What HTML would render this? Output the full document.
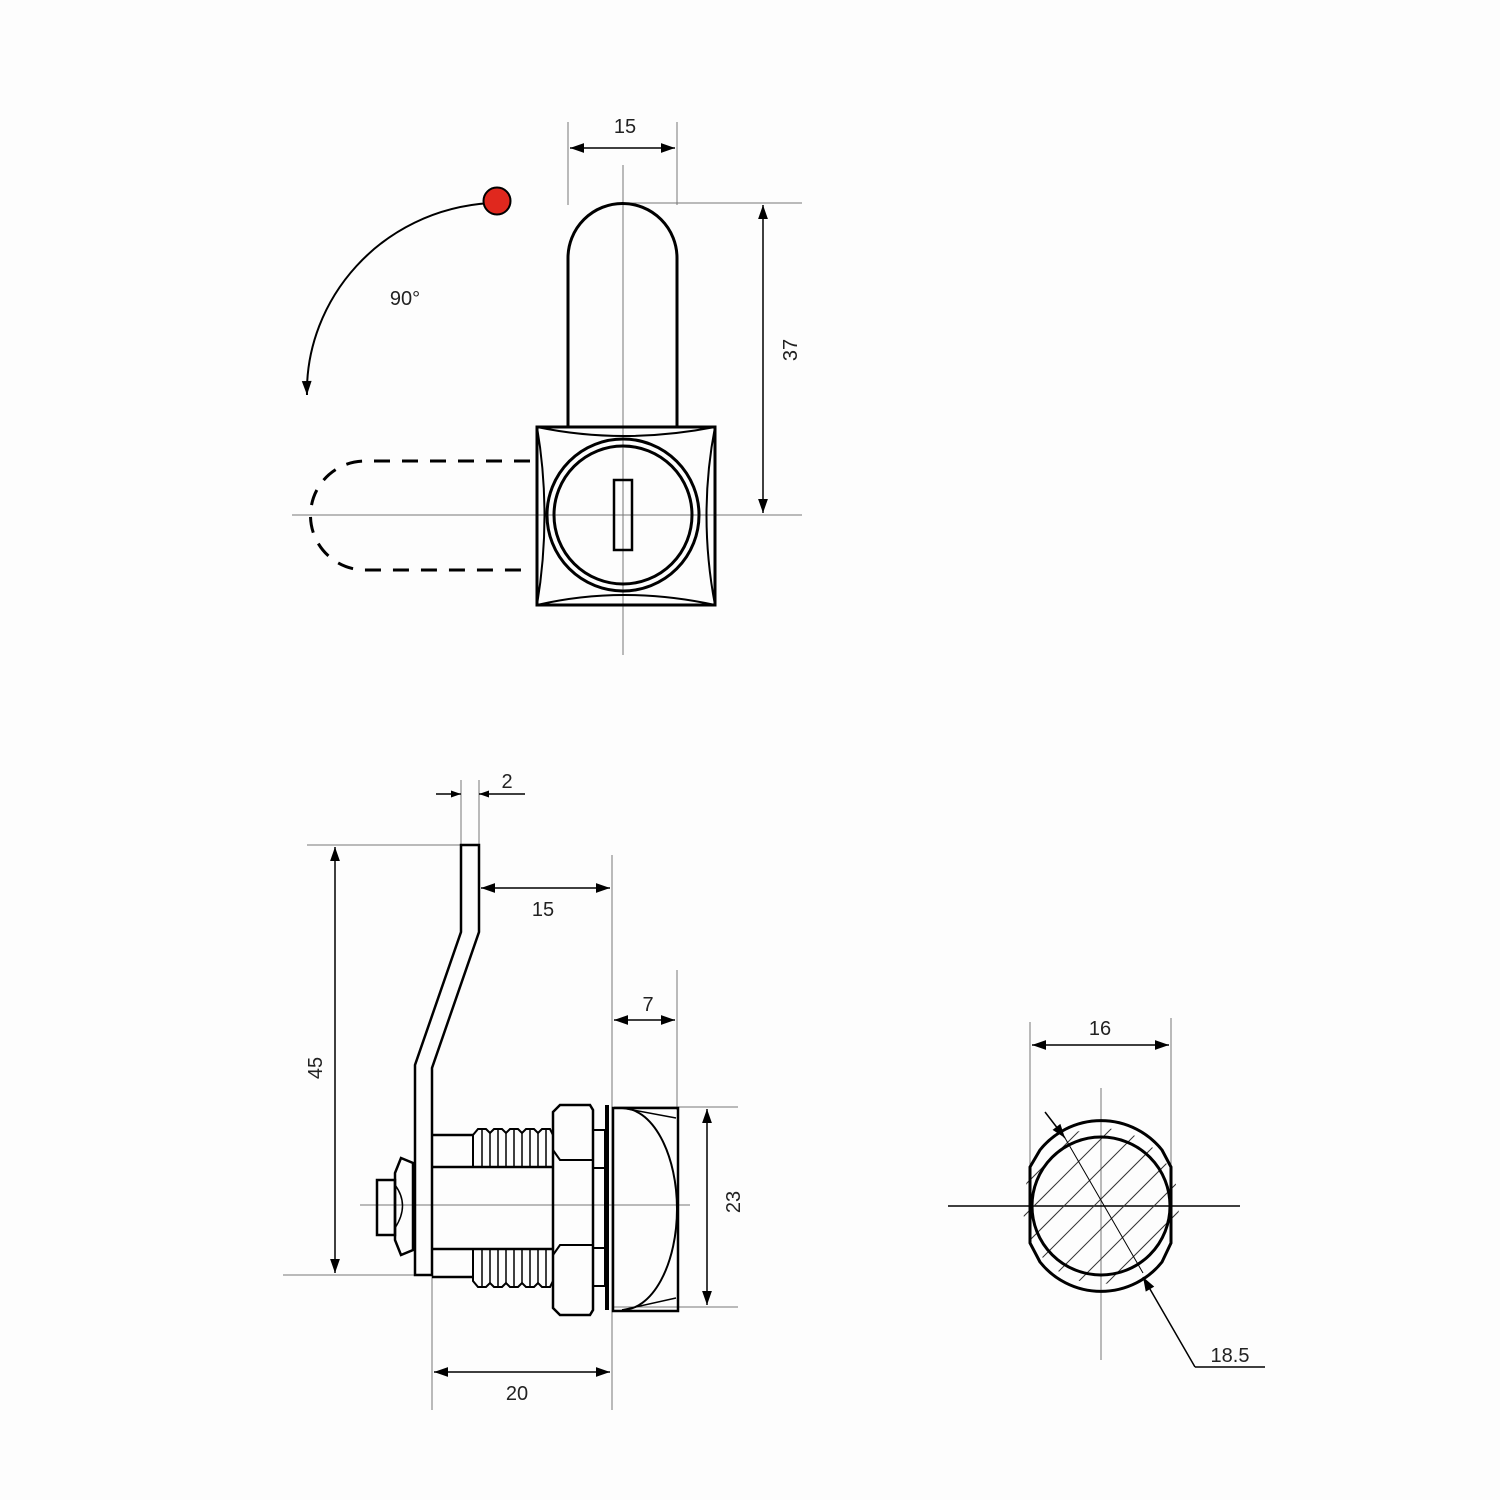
<!DOCTYPE html>
<html><head><style>html,body{margin:0;padding:0;background:#fff}svg{display:block}text{font-family:"Liberation Sans",sans-serif;fill:#222}</style></head>
<body>
<svg width="1500" height="1500" viewBox="0 0 1500 1500" xmlns="http://www.w3.org/2000/svg">
<defs>
<marker id="a" viewBox="0 0 10 10" refX="10" refY="5" markerWidth="10" markerHeight="10" markerUnits="userSpaceOnUse" orient="auto-start-reverse"><path d="M0,1.5 L10,5 L0,8.5 z" fill="#000"/></marker>
<marker id="b" viewBox="0 0 10 10" refX="10" refY="5" markerWidth="16" markerHeight="14" markerUnits="userSpaceOnUse" orient="auto-start-reverse"><path d="M0,1.5 L10,5 L0,8.5 z" fill="#000"/></marker>
<clipPath id="co"><circle cx="1101" cy="1206" r="78"/></clipPath>
</defs>
<rect width="1500" height="1500" fill="#fdfdfd"/>

<!-- TOP VIEW -->
<g stroke="#777" stroke-width="1" fill="none">
<line x1="623" y1="165" x2="623" y2="655"/>
<line x1="292" y1="515" x2="802" y2="515"/>
<line x1="568" y1="122" x2="568" y2="205"/>
<line x1="677" y1="122" x2="677" y2="205"/>
<line x1="625" y1="203" x2="802" y2="203"/>
</g>
<g stroke="#000" stroke-width="1.5" fill="none">
<line x1="570" y1="148" x2="675" y2="148" marker-start="url(#b)" marker-end="url(#b)"/>
<line x1="763" y1="205" x2="763" y2="513" marker-start="url(#b)" marker-end="url(#b)"/>
</g>
<text x="625" y="133" font-size="20" text-anchor="middle">15</text>
<text transform="translate(797,350) rotate(-90)" font-size="20" text-anchor="middle">37</text>

<g stroke="#000" stroke-width="3" fill="none">
<path d="M568,426 L568,258 A54.5,54.5 0 0 1 677,258 L677,426"/>
<rect x="537" y="427" width="178" height="178"/>
<path d="M537,427 Q623,445 715,427 M537,605 Q623,585 715,605 M537,427 Q552,515 537,605 M715,427 Q698,515 715,605" stroke-width="2"/>
<circle cx="623" cy="515" r="76"/>
<circle cx="623" cy="515" r="69"/>
<rect x="614" y="480" width="18" height="70" stroke-width="2.5"/>
<path d="M530,461 L365,461 A54.5,54.5 0 0 0 365,570 L530,570" stroke-dasharray="16,12"/>
</g>
<path d="M490,203 C380,210 305,300 307,395" stroke="#000" stroke-width="2" fill="none" marker-end="url(#b)"/>
<circle cx="497" cy="201" r="13.5" fill="#e0281e" stroke="#000" stroke-width="2"/>
<text x="405" y="305" font-size="20" text-anchor="middle">90°</text>

<!-- SIDE VIEW -->
<g stroke="#777" stroke-width="1" fill="none">
<line x1="461" y1="780" x2="461" y2="845"/>
<line x1="479" y1="780" x2="479" y2="845"/>
<line x1="307" y1="845" x2="462" y2="845"/>
<line x1="283" y1="1275" x2="415" y2="1275"/>
<line x1="612" y1="855" x2="612" y2="1410"/>
<line x1="677" y1="970" x2="677" y2="1110"/>
<line x1="432" y1="1275" x2="432" y2="1410"/>
<line x1="614" y1="1107" x2="738" y2="1107"/>
<line x1="614" y1="1307" x2="738" y2="1307"/>
<line x1="360" y1="1205" x2="690" y2="1205"/>
</g>
<g stroke="#000" stroke-width="1.5" fill="none">
<line x1="436" y1="794" x2="461" y2="794" marker-end="url(#a)"/>
<line x1="525" y1="794" x2="479" y2="794" marker-end="url(#a)"/>
<line x1="335" y1="847" x2="335" y2="1273" marker-start="url(#b)" marker-end="url(#b)"/>
<line x1="481" y1="888" x2="610" y2="888" marker-start="url(#b)" marker-end="url(#b)"/>
<line x1="614" y1="1020" x2="675" y2="1020" marker-start="url(#b)" marker-end="url(#b)"/>
<line x1="707" y1="1109" x2="707" y2="1305" marker-start="url(#b)" marker-end="url(#b)"/>
<line x1="434" y1="1372" x2="610" y2="1372" marker-start="url(#b)" marker-end="url(#b)"/>
</g>
<text x="507" y="788" font-size="20" text-anchor="middle">2</text>
<text transform="translate(322,1068) rotate(-90)" font-size="20" text-anchor="middle">45</text>
<text x="543" y="916" font-size="20" text-anchor="middle">15</text>
<text x="648" y="1011" font-size="20" text-anchor="middle">7</text>
<text transform="translate(740,1202) rotate(-90)" font-size="20" text-anchor="middle">23</text>
<text x="517" y="1400" font-size="20" text-anchor="middle">20</text>

<g stroke="#000" stroke-width="2.5" fill="none" stroke-linejoin="miter">
<path d="M461,845 L479,845 L479,932 L432,1068 L432,1275 L415,1275 L415,1065 L461,932 Z"/>
<!-- barrel -->
<path d="M432,1135 L473,1135 M432,1277 L473,1277"/>
<line x1="432" y1="1167" x2="553" y2="1167"/>
<line x1="432" y1="1249" x2="553" y2="1249"/>
<!-- threads -->
<path d="M473,1167 L473,1135 L478,1129 L486,1129 L490,1133 L494,1129 L502,1129 L506,1133 L510,1129 L518,1129 L522,1133 L526,1129 L534,1129 L538,1133 L542,1129 L550,1129 L553,1135" stroke-width="2"/>
<path d="M473,1249 L473,1281 L478,1287 L486,1287 L490,1283 L494,1287 L502,1287 L506,1283 L510,1287 L518,1287 L522,1283 L526,1287 L534,1287 L538,1283 L542,1287 L550,1287 L553,1281" stroke-width="2"/>
<g stroke-width="1.5">
<path d="M482,1129 V1167 M490,1133 V1167 M498,1129 V1167 M506,1133 V1167 M514,1129 V1167 M522,1133 V1167 M530,1129 V1167 M538,1133 V1167 M546,1129 V1167"/>
<path d="M482,1249 V1287 M490,1249 V1283 M498,1249 V1287 M506,1249 V1283 M514,1249 V1287 M522,1249 V1283 M530,1249 V1287 M538,1249 V1283 M546,1249 V1287"/>
</g>
<!-- hex nut -->
<path d="M560,1105 L590,1105 L593,1110 L593,1310 L590,1315 L560,1315 L553,1308 L553,1112 Z"/>
<path d="M553,1150 L560,1160 L593,1160 M553,1255 L560,1245 L593,1245" stroke-width="2"/>
<rect x="593" y="1130" width="12" height="38" stroke-width="2"/>
<rect x="593" y="1248" width="12" height="38" stroke-width="2"/>
<rect x="593" y="1168" width="12" height="80" stroke-width="2"/>
<line x1="607" y1="1105" x2="607" y2="1310" stroke-width="4"/>
<!-- cap -->
<path d="M613,1108 L678,1108 L678,1311 L613,1311 Z"/>
<path d="M622,1108 A55,101 0 0 1 622,1310" stroke-width="2"/>
<path d="M622,1108 L676,1118 M622,1310 L676,1298" stroke-width="1.5"/>
<!-- small nut -->
<path d="M401,1158 L413,1163 L413,1250 L401,1255 L395,1240 L395,1173 Z"/>
<rect x="377" y="1180" width="18" height="55"/>
<path d="M395,1185 Q410,1205 395,1228" stroke-width="1.5"/>
</g>

<!-- SECTION VIEW -->
<g stroke="#777" stroke-width="1" fill="none">
<line x1="1030" y1="1022" x2="1030" y2="1165"/>
<line x1="1171" y1="1018" x2="1171" y2="1165"/>
<line x1="1101" y1="1088" x2="1101" y2="1360"/>
</g>
<line x1="948" y1="1206" x2="1240" y2="1206" stroke="#000" stroke-width="1.5"/>
<line x1="1032" y1="1045" x2="1169" y2="1045" stroke="#000" stroke-width="1.5" marker-start="url(#b)" marker-end="url(#b)"/>
<text x="1100" y="1035" font-size="20" text-anchor="middle">16</text>
<g clip-path="url(#co)" stroke="#333" stroke-width="1">
<line x1="980" y1="1260" x2="1120" y2="1120"/>
<line x1="980" y1="1290" x2="1150" y2="1120"/>
<line x1="990" y1="1310" x2="1180" y2="1120"/>
<line x1="1010" y1="1320" x2="1200" y2="1130"/>
<line x1="1030" y1="1330" x2="1210" y2="1150"/>
<line x1="1060" y1="1330" x2="1210" y2="1180"/>
<line x1="1090" y1="1330" x2="1210" y2="1210"/>
<line x1="1000" y1="1210" x2="1100" y2="1110"/>
<line x1="1000" y1="1180" x2="1080" y2="1100"/>
</g>
<g stroke="#000" stroke-width="3" fill="none">
<path d="M1030,1167 L1030,1243 L1040,1262 A78,78 0 0 0 1162,1262 L1171,1243 L1171,1167 L1162,1150 A78,78 0 0 0 1040,1150 Z"/>
<circle cx="1101" cy="1206" r="69"/>
</g>
<line x1="1045" y1="1112" x2="1065" y2="1138" stroke="#000" stroke-width="1.5" marker-end="url(#b)"/>
<line x1="1065" y1="1138" x2="1143" y2="1273" stroke="#000" stroke-width="1"/>
<path d="M1195,1367 L1143,1277" stroke="#000" stroke-width="1.5" fill="none" marker-end="url(#b)"/>
<line x1="1195" y1="1367" x2="1265" y2="1367" stroke="#000" stroke-width="1.5"/>
<text x="1230" y="1362" font-size="20" text-anchor="middle">18.5</text>
</svg>
</body></html>
